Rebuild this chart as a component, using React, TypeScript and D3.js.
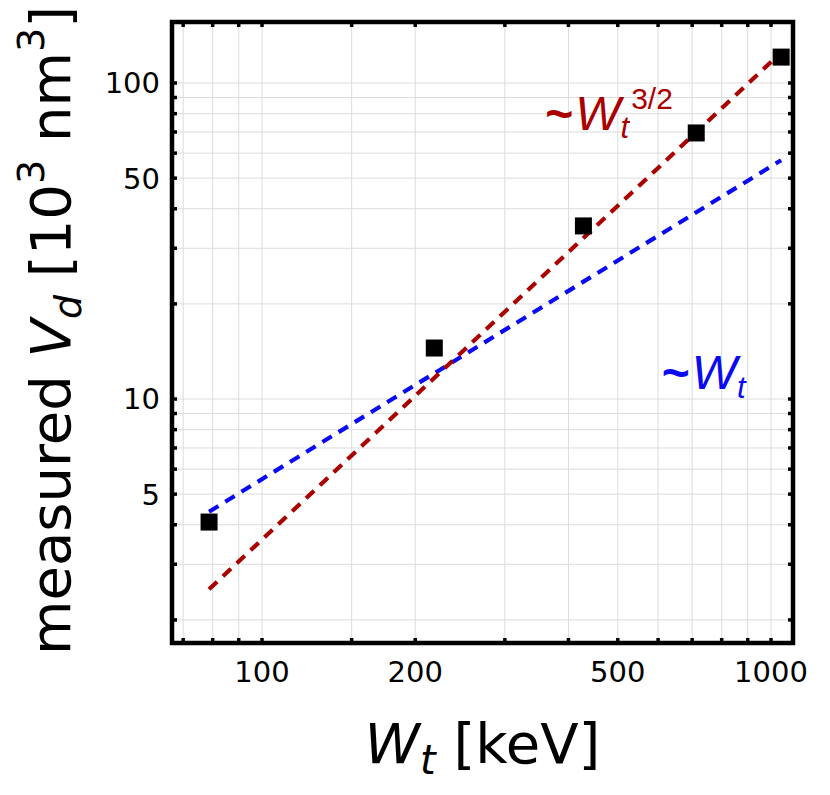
import React from "react";
import * as d3 from "d3";

// measured points
const energies = [78.7, 218, 428, 713, 1047]; // keV
const volumes = [4.08, 14.5, 35.3, 69.5, 120.8]; // 10^3 nm^3

// fit lines, drawn between the end values
const fitEnergies = [78.7, 1047];
const linearFit = [4.4, 57]; // ~ W_t
const powerFit = [2.5, 125]; // ~ W_t^(3/2)

const xTickLabels = [100, 200, 500, 1000];
const xMinorTicks = [70, 80, 90, 100, 150, 200, 300, 400, 500, 600, 700, 800, 900, 1000];
const yTickLabels = [5, 10, 50, 100];
const yMinorTicks = [2, 3, 4, 5, 6, 7, 8, 9, 10, 20, 30, 40, 50, 60, 70, 80, 90, 100];

const W = 830;
const H = 795;
const left = 172;
const right = 793;
const top = 22;
const bottom = 643;

const RED = "#aa0000";
const BLUE = "#0b0bf2";

const App: React.FC = () => {
    const x = d3.scaleLog().domain([66.55, 1104.6]).range([left, right]);
    const y = d3.scaleLog().domain([1.69, 156]).range([bottom, top]);

    const line = d3.line<[number, number]>()
        .x(d => x(d[0]))
        .y(d => y(d[1]));

    const linearPts = fitEnergies.map((e, i) => [e, linearFit[i]] as [number, number]);
    const powerPts = fitEnergies.map((e, i) => [e, powerFit[i]] as [number, number]);

    const tickLen = 5;
    const markSize = 17;

    return (
        <svg width={W} height={H} style={{ position: "absolute", left: 0, top: 0 }}>
            <rect width={W} height={H} fill="white" />

            {/* grid */}
            <g stroke="#dcdcdc" strokeWidth={1}>
                {xMinorTicks.map(t => (
                    <line key={"gx" + t} x1={x(t)} x2={x(t)} y1={top} y2={bottom} />
                ))}
                {yMinorTicks.map(t => (
                    <line key={"gy" + t} x1={left} x2={right} y1={y(t)} y2={y(t)} />
                ))}
            </g>

            {/* fits */}
            <path d={line(linearPts) || ""} fill="none" stroke={BLUE} strokeWidth={4.2} strokeDasharray="11,8" />
            <path d={line(powerPts) || ""} fill="none" stroke={RED} strokeWidth={4.2} strokeDasharray="11,8" />

            {/* data */}
            {energies.map((e, i) => (
                <rect key={"p" + i}
                    x={x(e) - markSize / 2} y={y(volumes[i]) - markSize / 2}
                    width={markSize} height={markSize} fill="black" />
            ))}

            {/* ticks */}
            <g stroke="black" strokeWidth={3.5}>
                {xMinorTicks.map(t => (
                    <g key={"tx" + t}>
                        <line x1={x(t)} x2={x(t)} y1={bottom} y2={bottom - tickLen} />
                        <line x1={x(t)} x2={x(t)} y1={top} y2={top + tickLen} />
                    </g>
                ))}
                {yMinorTicks.map(t => (
                    <g key={"ty" + t}>
                        <line x1={left} x2={left + tickLen} y1={y(t)} y2={y(t)} />
                        <line x1={right} x2={right - tickLen} y1={y(t)} y2={y(t)} />
                    </g>
                ))}
            </g>

            {/* frame */}
            <rect x={left} y={top} width={right - left} height={bottom - top}
                fill="none" stroke="black" strokeWidth={4.5} />

            {/* tick labels */}
            <g fontFamily="DejaVu Sans" fontSize={29} fill="black">
                {xTickLabels.map(t => (
                    <text key={"lx" + t} x={x(t)} y={682} textAnchor="middle">{t}</text>
                ))}
                {yTickLabels.map(t => (
                    <text key={"ly" + t} x={160} y={y(t)} dy="0.36em" textAnchor="end">{t}</text>
                ))}
            </g>

            {/* axis titles */}
            <text x={(left + right) / 2} y={763} textAnchor="middle"
                fontFamily="DejaVu Sans" fontSize={56} fill="black">
                <tspan fontStyle="italic">W</tspan>
                <tspan fontStyle="italic" fontSize={40} dy={11}>t</tspan>
                <tspan dy={-11}> [keV]</tspan>
            </text>
            <text transform={`translate(70,${(top + bottom) / 2 - 2}) rotate(-90)`} textAnchor="middle"
                fontFamily="DejaVu Sans" fontSize={56} fill="black">
                <tspan>measured </tspan>
                <tspan fontStyle="italic">V</tspan>
                <tspan fontStyle="italic" fontSize={38} dy={11}>d</tspan>
                <tspan dy={-11}> [10</tspan>
                <tspan fontSize={38} dy={-26}>3</tspan>
                <tspan dy={26}> nm</tspan>
                <tspan fontSize={38} dy={-26}>3</tspan>
                <tspan dy={26}>]</tspan>
            </text>

            {/* annotations */}
            <text x={x(360)} y={y(71)} fontFamily="Liberation Sans" fontSize={48} fill={RED}>
                <tspan fontWeight="bold">~</tspan>
                <tspan fontStyle="italic" dx={2}>W</tspan>
                <tspan fontStyle="italic" fontSize={31} dy={8}>t</tspan>
                <tspan fontSize={30} dx={2} dy={-29}>3/2</tspan>
            </text>
            <text x={x(610)} y={y(10.75)} fontFamily="Liberation Sans" fontSize={48} fill={BLUE}>
                <tspan fontWeight="bold">~</tspan>
                <tspan fontStyle="italic" dx={2}>W</tspan>
                <tspan fontStyle="italic" fontSize={31} dy={9}>t</tspan>
            </text>
        </svg>
    );
};

export default App;
